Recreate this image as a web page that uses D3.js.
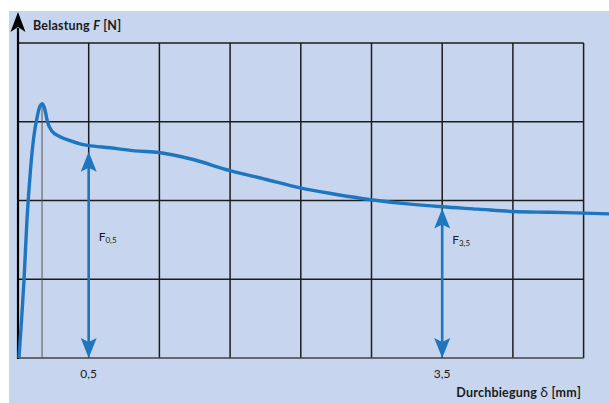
<!DOCTYPE html>
<html>
  <head>
    <meta charset="utf-8">
    <title>Belastung / Durchbiegung</title>
    <script src="https://d3js.org/d3.v7.min.js"></script>
    <style>
      body { margin: 0; background: #fff; }
      text { font-family: Lato, "Open Sans", sans-serif; fill: #1a1a1a; }
    </style>
  </head>
  <body>
    <div id="chart"></div>
    <script>
      // Durchbiegung in mm (schematic), Belastung in grid units
      var deflection = [-0.092, -0.070, -0.049, -0.024, 0.006, 0.036, 0.061, 0.087, 0.108, 0.129,
        0.150, 0.189, 0.257, 0.341, 0.426, 0.494, 0.681, 0.893, 1.097, 1.360,
        1.700, 1.997, 2.294, 2.591, 2.897, 3.185, 3.499, 3.805, 4.102, 4.416, 4.705, 4.917];
      var load = [0.00, 0.48, 0.99, 1.75, 2.39, 2.83, 3.05, 3.20, 3.23, 3.15,
        3.00, 2.88, 2.81, 2.76, 2.72, 2.70, 2.67, 2.63, 2.61, 2.53,
        2.38, 2.27, 2.16, 2.08, 2.01, 1.96, 1.92, 1.89, 1.86, 1.85, 1.84, 1.83];

      var xGrid = [-0.1, 0.5, 1.1, 1.7, 2.3, 2.9, 3.5, 4.1, 4.7];
      var yGrid = [0, 1, 2, 3, 4];
      var tickLabels = ["0,5", "3,5"];
      var tickValues = [0.5, 3.5];

      var peak = { x: 0.104, y: 3.23 };
      var arrowX = [0.5, 3.5];
      var arrowTop = [2.62, 1.90];
      var arrowSub = ["0,5", "3,5"];
      var labelY = [1.48, 1.45];

      var width = 609, height = 403;
      var blue = "#1d76bf";

      var svg = d3.select("#chart").append("svg")
        .attr("width", width)
        .attr("height", height);

      // background panel
      svg.append("rect")
        .attr("x", 9).attr("y", 11)
        .attr("width", width - 9).attr("height", height - 11)
        .attr("fill", "#c7d6ee");

      var x = d3.scaleLinear().domain([-0.1, 4.7]).range([18, 583.6]);
      var y = d3.scaleLinear().domain([0, 4]).range([358, 43]);

      // grid
      svg.append("g").selectAll("line")
        .data(xGrid.slice(1))
        .enter().append("line")
        .attr("x1", d => x(d)).attr("x2", d => x(d))
        .attr("y1", y(4)).attr("y2", y(0))
        .attr("stroke", "#1c1c1c")
        .attr("stroke-width", 1.5);

      svg.append("g").selectAll("line")
        .data(yGrid)
        .enter().append("line")
        .attr("x1", x(-0.1)).attr("x2", x(4.7))
        .attr("y1", d => y(d)).attr("y2", d => y(d))
        .attr("stroke", d => d == 0 ? "#444" : "#1c1c1c")
        .attr("stroke-width", 1.5);

      // peak marker
      svg.append("line")
        .attr("x1", x(peak.x)).attr("x2", x(peak.x))
        .attr("y1", y(peak.y)).attr("y2", y(0))
        .attr("stroke", "#555")
        .attr("stroke-width", 1);

      // y axis with arrow
      svg.append("line")
        .attr("x1", x(-0.1)).attr("x2", x(-0.1))
        .attr("y1", y(0) + 1).attr("y2", 28)
        .attr("stroke", "#000")
        .attr("stroke-width", 2.2);
      var ax = x(-0.1);
      svg.append("path")
        .attr("d", "M" + ax + ",12 L" + (ax - 7.5) + ",32 L" + ax + ",27 L" + (ax + 7.5) + ",32 Z")
        .attr("fill", "#000");

      // curve
      var pts = deflection.map((d, i) => [d, load[i]]);
      svg.append("path")
        .datum(pts)
        .attr("fill", "none")
        .attr("stroke", blue)
        .attr("stroke-width", 3.4)
        .attr("stroke-linejoin", "round")
        .attr("d", d3.line()
          .x(d => x(d[0]))
          .y(d => y(d[1]))
          .curve(d3.curveMonotoneX));

      // double arrows
      function head(cx, tip, dir) {
        return "M" + cx + "," + tip +
          " L" + (cx - 8) + "," + (tip + dir * 20) +
          " L" + cx + "," + (tip + dir * 16) +
          " L" + (cx + 8) + "," + (tip + dir * 20) + " Z";
      }
      arrowX.forEach(function(d, i) {
        var cx = x(d), top = y(arrowTop[i]), bot = y(0);
        svg.append("line")
          .attr("x1", cx).attr("x2", cx)
          .attr("y1", top + 14).attr("y2", bot - 14)
          .attr("stroke", blue)
          .attr("stroke-width", 2.6);
        svg.append("path").attr("d", head(cx, top, 1)).attr("fill", blue);
        svg.append("path").attr("d", head(cx, bot, -1)).attr("fill", blue);

        var t = svg.append("text")
          .attr("x", cx + 10)
          .attr("y", y(labelY[i]))
          .attr("font-size", 12);
        t.append("tspan").text("F");
        t.append("tspan")
          .attr("font-size", 8)
          .attr("dy", 2)
          .text(arrowSub[i]);
      });

      // tick labels
      svg.append("g").selectAll("text")
        .data(tickValues)
        .enter().append("text")
        .attr("x", d => x(d))
        .attr("y", 378)
        .attr("text-anchor", "middle")
        .attr("font-size", 12)
        .text((d, i) => tickLabels[i]);

      // axis titles
      var yt = svg.append("text")
        .attr("x", 33).attr("y", 30)
        .attr("font-size", 12.5)
        .attr("letter-spacing", 0.2)
        .attr("font-weight", "bold");
      yt.append("tspan").text("Belastung ");
      yt.append("tspan").attr("font-style", "italic").text("F");
      yt.append("tspan").text(" [N]");

      var xt = svg.append("text")
        .attr("x", 581).attr("y", 397)
        .attr("text-anchor", "end")
        .attr("font-size", 12.5)
        .attr("letter-spacing", 0.2)
        .attr("font-weight", "bold");
      xt.append("tspan").text("Durchbiegung ");
      xt.append("tspan").attr("font-weight", "normal").attr("font-size", 14).text("δ");
      xt.append("tspan").text(" [mm]");
    </script>
  </body>
</html>
